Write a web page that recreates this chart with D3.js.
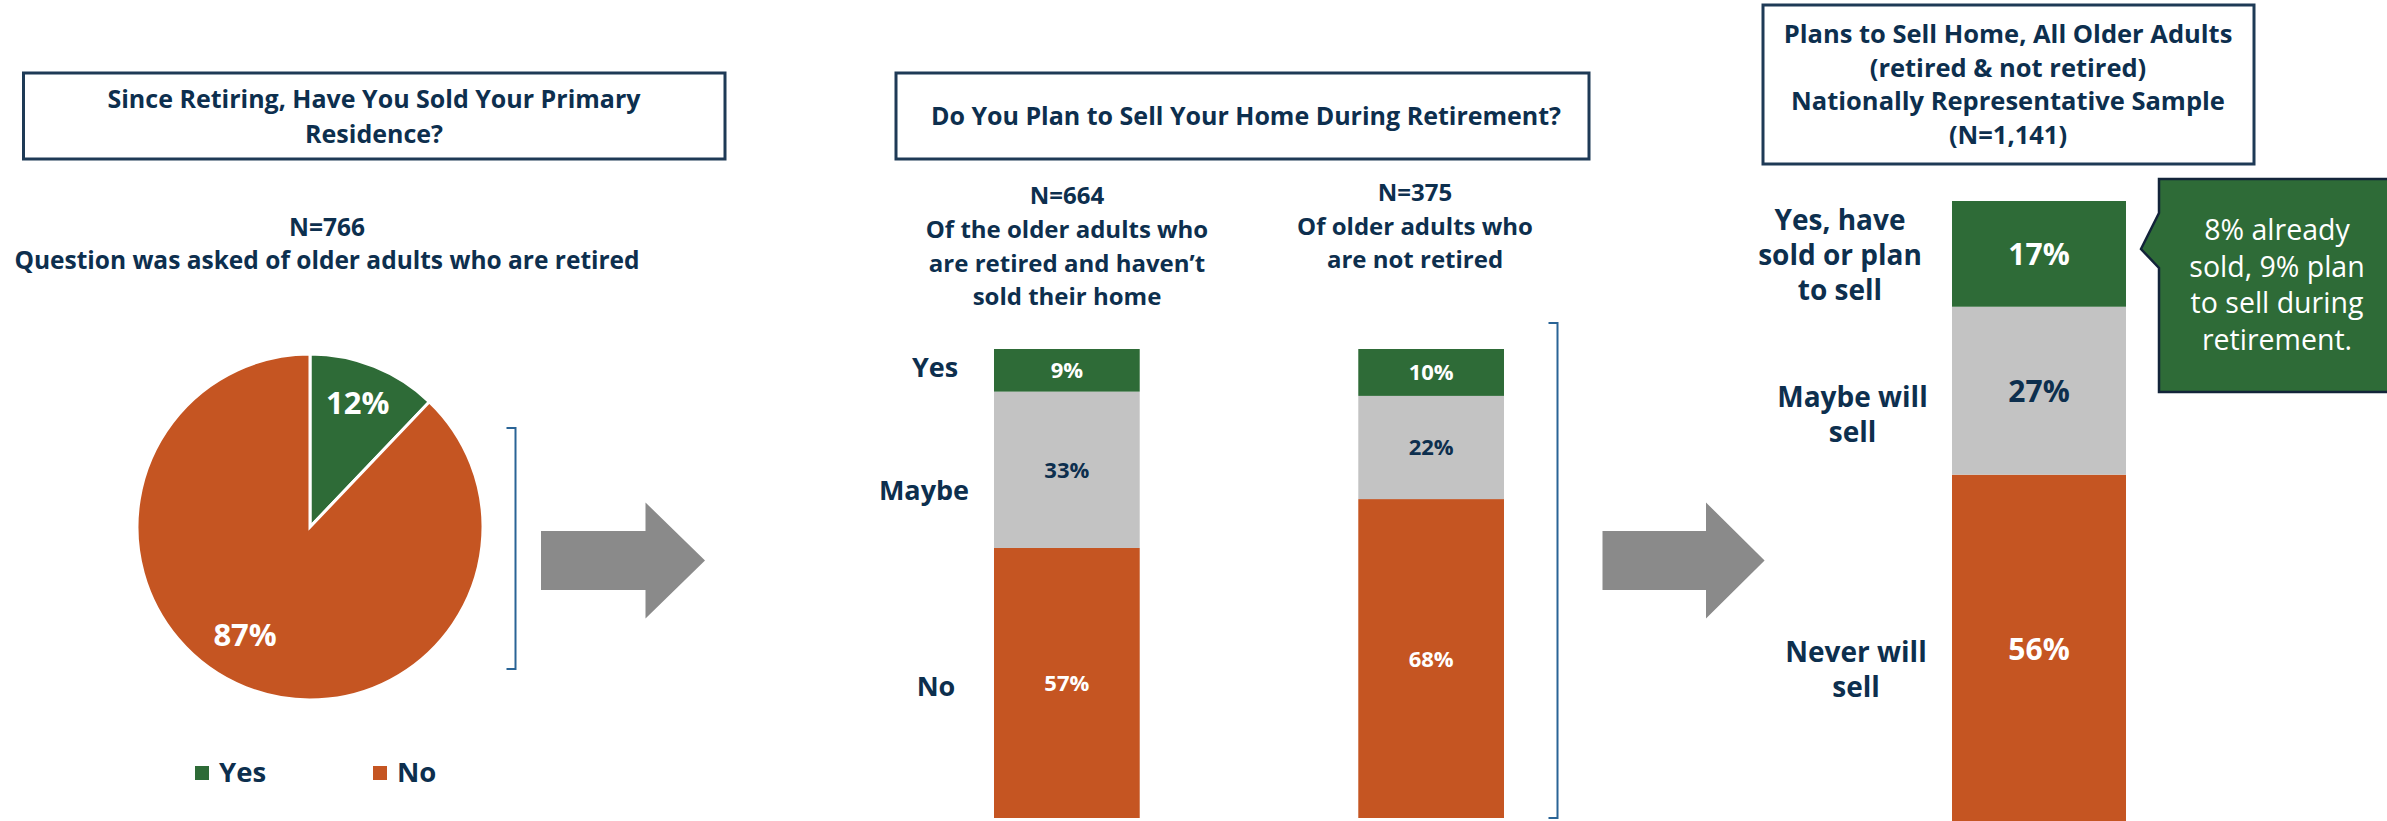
<!DOCTYPE html>
<html>
<head>
<meta charset="utf-8">
<script src="https://cdn.jsdelivr.net/npm/d3@7"></script>
<style>
  html, body { margin: 0; padding: 0; background: #ffffff; }
  svg { display: block; }
</style>
</head>
<body>
<svg id="chart" width="2387" height="821"></svg>
<script>
// ---- Data ----
const pieCategories = ["Yes", "No"];
const pieValues = [12, 87];

const planCategories = ["Yes", "Maybe", "No"];
const planGroups = ["retired", "notRetired"];
const retiredValues = [9, 33, 57];
const notRetiredValues = [10, 22, 68];

const allCategories = ["Yes", "Maybe", "No"];
const allValues = [17, 27, 56];

// ---- Text ----
const panel1Title = ["Since Retiring, Have You Sold Your Primary", "Residence?"];
const panel1Sub = ["N=766", "Question was asked of older adults who are retired"];
const panel2Title = ["Do You Plan to Sell Your Home During Retirement?"];
const panel2SubA = ["N=664", "Of the older adults who", "are retired and haven\u2019t", "sold their home"];
const panel2SubB = ["N=375", "Of older adults who", "are not retired"];
const panel3Title = ["Plans to Sell Home, All Older Adults", "(retired & not retired)", "Nationally Representative Sample", "(N=1,141)"];
const panel3Labels = [["Yes, have", "sold or plan", "to sell"], ["Maybe will", "sell"], ["Never will", "sell"]];
const calloutText = ["8% already", "sold, 9% plan", "to sell during", "retirement."];

// ---- Style ----
const GREEN = "#2e6b37", GRAY = "#c3c3c3", ORANGE = "#c55522";
const NAVY = "#0d2f4e", BOXLINE = "#1e3a56", BRACKET = "#2a6496", ARROW = "#8a8a8a";
const FONT = "'Source Sans Pro', 'Open Sans', sans-serif";
const color = d3.scaleOrdinal().domain(["Yes", "Maybe", "No"]).range([GREEN, GRAY, ORANGE]);
const textOn = d3.scaleOrdinal().domain(["Yes", "Maybe", "No"]).range(["#ffffff", NAVY, "#ffffff"]);

const svg = d3.select("#chart");

// multi-line centred text block
function textBlock(lines, x, y, lh, size, opts = {}) {
  const t = svg.append("text")
    .attr("x", x).attr("y", y)
    .attr("text-anchor", opts.anchor || "middle")
    .attr("font-family", FONT)
    .attr("font-weight", opts.weight || 700)
    .attr("font-size", size)
    .attr("fill", opts.fill || NAVY);
  lines.forEach((l, i) => t.append("tspan").attr("x", x).attr("y", y + i * lh).text(l));
  return t;
}

function titleBox(x0, y0, x1, y1) {
  svg.append("rect").attr("x", x0).attr("y", y0)
    .attr("width", x1 - x0).attr("height", y1 - y0)
    .attr("fill", "#ffffff").attr("stroke", BOXLINE).attr("stroke-width", 3);
}

function arrow(x0, xHead, xTip, yMid) {
  const pts = [[x0, yMid - 29.5], [xHead, yMid - 29.5], [xHead, yMid - 58], [xTip, yMid],
               [xHead, yMid + 58], [xHead, yMid + 29.5], [x0, yMid + 29.5]];
  svg.append("polygon").attr("points", pts.map(p => p.join(",")).join(" ")).attr("fill", ARROW);
}

function bracket(x, y0, y1) {
  svg.append("path")
    .attr("d", `M${x - 9},${y0} H${x} V${y1} H${x - 9}`)
    .attr("fill", "none").attr("stroke", BRACKET).attr("stroke-width", 2);
}

// ================= Panel 1: pie =================
titleBox(23.5, 73, 725, 159);
textBlock(panel1Title, 374, 108, 35, 25);
textBlock(panel1Sub, 327, 236, 33, 24.5);

const pieCx = 310, pieCy = 527, pieR = 173;
const pie = d3.pie().sort(null).value(d => d)(pieValues);
const arc = d3.arc().innerRadius(0).outerRadius(pieR);
const pieG = svg.append("g").attr("transform", `translate(${pieCx},${pieCy})`);
pieG.selectAll("path").data(pie).join("path")
  .attr("d", arc)
  .attr("fill", (d, i) => color(pieCategories[i]))
  .attr("stroke", "#ffffff").attr("stroke-width", 3).attr("stroke-linejoin", "miter");

// label placement: radius and angular nudge per slice
const pieLabelR = [133, 126];
const pieLabelNudge = [-0.8, 9.2];
pieG.selectAll("text").data(pie).join("text")
  .each(function (d, i) {
    const a = (d.startAngle + d.endAngle) / 2 + pieLabelNudge[i] * Math.PI / 180;
    d3.select(this)
      .attr("x", pieLabelR[i] * Math.sin(a))
      .attr("y", -pieLabelR[i] * Math.cos(a) + 11);
  })
  .attr("text-anchor", "middle")
  .attr("font-family", FONT).attr("font-weight", 700).attr("font-size", 31)
  .attr("fill", "#ffffff")
  .text(d => d.data + "%");

// legend
const legendX = [195, 373];
pieCategories.forEach((c, i) => {
  svg.append("rect").attr("x", legendX[i]).attr("y", 766).attr("width", 14).attr("height", 14)
    .attr("fill", color(c));
  svg.append("text").attr("x", legendX[i] + 24).attr("y", 782)
    .attr("font-family", FONT).attr("font-weight", 700).attr("font-size", 27.5)
    .attr("fill", NAVY).text(c);
});

bracket(515.5, 428, 669);
arrow(541, 645.5, 705, 560.5);

// ================= Panel 2: 100% stacked bars =================
titleBox(896, 73, 1589, 159);
textBlock(panel2Title, 1246, 125, 35, 25);
textBlock(panel2SubA, 1067, 204, 33.8, 24);
textBlock(panel2SubB, 1415, 201, 33.5, 24);

const planRows = planGroups.map((g, gi) => {
  const vals = gi === 0 ? retiredValues : notRetiredValues;
  const row = { group: g };
  planCategories.forEach((c, ci) => row[c] = vals[ci]);
  return row;
});
const stackKeys = ["No", "Maybe", "Yes"];
const planStack = d3.stack().keys(stackKeys).offset(d3.stackOffsetExpand)(planRows);

const x2 = d3.scaleBand().domain(planGroups).range([994, 1504]).paddingInner(0.6).paddingOuter(0);
const y2 = d3.scaleLinear().domain([0, 1]).range([818, 349]);

const g2 = svg.append("g");
planStack.forEach(layer => {
  g2.selectAll(null).data(layer).join("rect")
    .attr("x", d => x2(d.data.group))
    .attr("width", x2.bandwidth())
    .attr("y", d => y2(d[1]))
    .attr("height", d => y2(d[0]) - y2(d[1]))
    .attr("fill", color(layer.key));
  g2.selectAll(null).data(layer).join("text")
    .attr("x", d => x2(d.data.group) + x2.bandwidth() / 2)
    .attr("y", d => (y2(d[0]) + y2(d[1])) / 2 + 8)
    .attr("text-anchor", "middle")
    .attr("font-family", FONT).attr("font-weight", 700).attr("font-size", 22)
    .attr("fill", textOn(layer.key))
    .text(d => d.data[layer.key] + "%");
});

// row captions to the left of the bars
const planCaptionPos = { Yes: [935, 377], Maybe: [924, 500], No: [936, 696] };
planCategories.forEach(c => {
  svg.append("text").attr("x", planCaptionPos[c][0]).attr("y", planCaptionPos[c][1])
    .attr("text-anchor", "middle")
    .attr("font-family", FONT).attr("font-weight", 700).attr("font-size", 27)
    .attr("fill", NAVY).text(c);
});

bracket(1557.5, 323, 818);
arrow(1602.5, 1706, 1764.6, 560.5);

// ================= Panel 3: all older adults =================
titleBox(1763, 5, 2254, 164);
textBlock(panel3Title, 2008, 43, 33.7, 25.5);

const allRow = { group: "all" };
allCategories.forEach((c, i) => allRow[c] = allValues[i]);
const allStack = d3.stack().keys(stackKeys)([allRow]);

const x3 = d3.scaleBand().domain(["all"]).range([1952, 2126]).padding(0);
const y3 = d3.scaleLinear().domain([0, 100]).range([823, 201]);

const g3 = svg.append("g");
allStack.forEach(layer => {
  g3.selectAll(null).data(layer).join("rect")
    .attr("x", d => x3(d.data.group))
    .attr("width", x3.bandwidth())
    .attr("y", d => y3(d[1]))
    .attr("height", d => y3(d[0]) - y3(d[1]))
    .attr("fill", color(layer.key));
  g3.selectAll(null).data(layer).join("text")
    .attr("x", d => x3(d.data.group) + x3.bandwidth() / 2)
    .attr("y", d => (y3(d[0]) + y3(d[1])) / 2 + 11)
    .attr("text-anchor", "middle")
    .attr("font-family", FONT).attr("font-weight", 700).attr("font-size", 30)
    .attr("fill", textOn(layer.key))
    .text(d => d.data[layer.key] + "%");
});

const panel3LabelPos = [[1840, 230], [1852.5, 407], [1856, 662]];
panel3Labels.forEach((lines, i) => textBlock(lines, panel3LabelPos[i][0], panel3LabelPos[i][1], 35, 28));

// callout
svg.append("path")
  .attr("d", "M2159,179 H2400 V392 H2159 V268 L2141,249 L2159,213 Z")
  .attr("fill", GREEN).attr("stroke", "#13243a").attr("stroke-width", 2.5);
textBlock(calloutText, 2277, 240, 36.7, 28.5, { weight: 400, fill: "#ffffff" });
</script>
</body>
</html>
